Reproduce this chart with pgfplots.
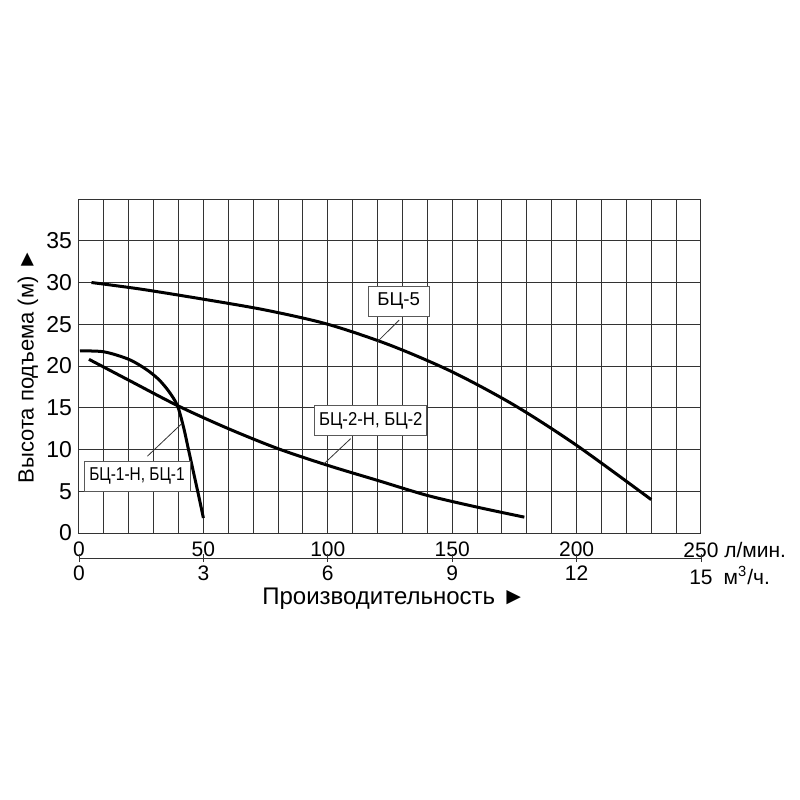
\documentclass[border=0pt]{standalone}
\usepackage{fontspec}
\setmainfont{Liberation Sans}
\usepackage{pgfplots}
\pgfplotsset{compat=1.18}

\definecolor{gridc}{gray}{0.2}
\tikzset{box/.style={draw=black!65, fill=white, line width=0.45pt,
    font=\fontsize{9.3}{11}\selectfont, inner sep=0.5pt, minimum height=15pt}}

\begin{document}
\begin{tikzpicture}
\path[use as bounding box] (-39.5pt,-133.5pt) rectangle (360.5pt,266.5pt);

% main axis: л/мин. vs м
\begin{axis}[
    scale only axis,
    width=311pt, height=167pt,
    at={(0,0)}, anchor=south west,
    xmin=0, xmax=250, ymin=0, ymax=40,
    xtick={0,50,...,250},
    minor xtick={0,10,...,250},
    ytick={0,5,...,35},
    xticklabels={0,50,100,150,200,250\rlap{\ л/мин.}},
    grid=both,
    major grid style={gridc, line width=0.5pt},
    minor grid style={gridc, line width=0.5pt},
    axis line style={gridc, line width=0.5pt},
    major tick length=0pt, minor tick length=0pt,
    /pgf/number format/assume math mode=true,
    xticklabel style={font=\fontsize{10.5}{12}\selectfont, yshift=-1pt},
    yticklabel style={font=\fontsize{11.5}{13}\selectfont},
    every axis y label/.style={at={(axis description cs:0,0.5)}, xshift=-25.5pt,
        anchor=center, rotate=90, font=\fontsize{11}{13}\selectfont},
    every axis x label/.style={at={(axis description cs:0.5,0)}, xshift=2pt, yshift=-33pt,
        anchor=center, font=\fontsize{12}{14}\selectfont},
    ylabel={Высота подъема (м) ►},
    xlabel={Производительность ►},
    leader/.style={black!80, line width=0.4pt, no marks},
    curve/.style={black, line width=1.5pt, no marks, smooth},
]

% БЦ-5
\addplot[curve] coordinates {
    (5,30.0) (25,29.2) (50,28.0) (75,26.7) (100,25.0) (125,22.5)
    (150,19.3) (175,15.3) (200,10.5) (230,4.0)
};

% БЦ-2-Н, БЦ-2
\addplot[curve] coordinates {
    (4,20.8) (20,18.3) (40,15.2) (60,12.5) (80,10.1) (100,8.1)
    (120,6.3) (140,4.5) (160,3.1) (179,1.9)
};

% БЦ-1-Н, БЦ-1
\addplot[curve] coordinates {
    (0.4,21.8) (10,21.7) (20,20.8) (27,19.6) (32,18.4) (36,17.0)
    (39.5,15.3) (42,12.7) (44,10.0) (46,7.3) (48,4.6) (50,1.8)
};

% leader lines
\addplot[leader] coordinates {(128.7,25.5) (119.9,22.9)};
\addplot[leader] coordinates {(109.2,11.3) (98.5,8.3)};
\addplot[leader] coordinates {(27.5,9.2) (41.3,13.1)};

\node[box, minimum width=30.5pt] at (axis cs:128.5,27.75) {БЦ-5};
\node[box, minimum width=56pt] at (axis cs:117.3,13.44) {\scalebox{0.9}[1]{БЦ-2-Н, БЦ-2}};
\node[box, minimum width=53pt] at (axis cs:23.3,6.79) {\scalebox{0.83}[1]{БЦ-1-Н, БЦ-1}};
\end{axis}

% second scale: м³/ч.
\begin{axis}[
    scale only axis,
    width=311pt, height=1pt,
    at={(0,-12.5pt)}, anchor=south west,
    xmin=0, xmax=15, ymin=0, ymax=1,
    axis x line=bottom, axis y line=none,
    axis line style={-, gridc, line width=0.5pt},
    xtick={0,3,...,15},
    xticklabels={0,3,6,9,12,15\rlap{\hspace{5.5pt}м\textsuperscript{3}/ч.}},
    tick align=center, major tick length=4pt,
    tick style={gridc, line width=0.5pt},
    /pgf/number format/assume math mode=true,
    xticklabel style={font=\fontsize{10.5}{12}\selectfont, yshift=1.5pt},
]
\end{axis}
\end{tikzpicture}
\end{document}
